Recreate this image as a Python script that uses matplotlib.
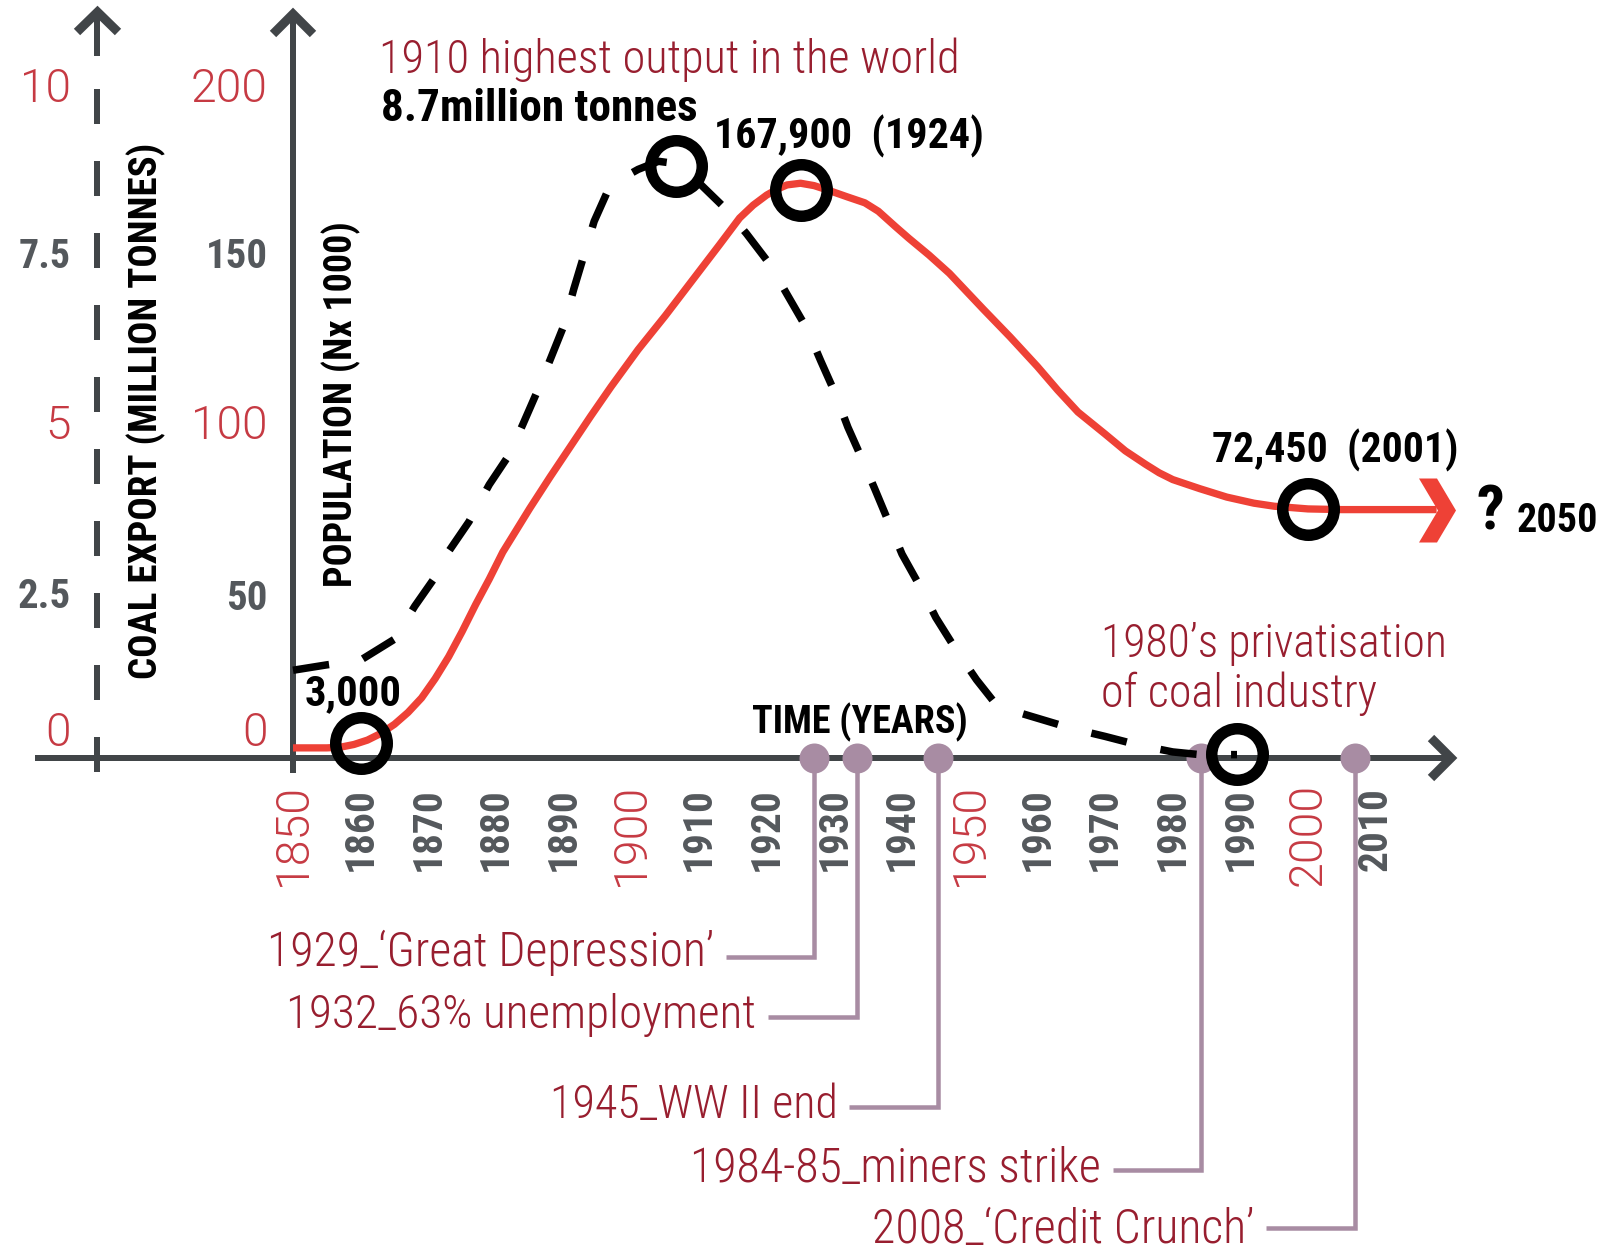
import os
import numpy as np
import matplotlib
matplotlib.use("Agg")
import matplotlib.pyplot as plt
import matplotlib.transforms as mtransforms
from matplotlib.path import Path
from matplotlib.font_manager import FontProperties, fontManager

# ---------------- data ----------------
pop_years = [1850, 1855, 1857, 1859, 1861, 1863, 1865, 1867, 1869, 1871, 1873, 1875,
             1877, 1879, 1881, 1883, 1885, 1888, 1891, 1894, 1897, 1901, 1905, 1909,
             1913, 1916, 1918, 1920, 1921.5, 1923, 1925, 1927, 1929, 1932, 1934.5,
             1936.5, 1939, 1941, 1944, 1947, 1952, 1956, 1960, 1963, 1966, 1970, 1973,
             1976, 1978, 1980, 1984, 1988, 1992, 1995, 2000, 2005, 2019]
pop_values = [3.0, 3.0, 3.2, 4.0, 5.3, 7.3, 10.0, 13.5, 17.8, 23.5, 30, 37.5,
              45.5, 53, 61, 67.5, 74, 83.3, 92.3, 101.3, 110, 121, 131, 141.5,
              152, 160, 163.8, 166.8, 168.5, 169.8, 170.3, 169.6, 168.3, 166.2, 164.5,
              162, 157.5, 154, 149, 143.6, 133, 124.7, 116, 109, 102.5, 96, 91,
              87, 84.5, 82.5, 79.8, 77.3, 75.5, 74.6, 73.8, 73.6, 73.6]

coal_years = [1850, 1855, 1860, 1865, 1868, 1871, 1873, 1876, 1879, 1882, 1884, 1886,
              1888, 1890, 1891.5, 1893, 1894.5, 1896.5, 1898.5, 1901, 1904, 1907, 1910,
              1914, 1917, 1920.5, 1923, 1926, 1928, 1930, 1932, 1934, 1936, 1938, 1940,
              1943, 1945, 1948, 1951, 1954, 1957, 1960, 1965, 1970, 1975, 1980, 1984, 1989.5]
coal_values = [1.30, 1.38, 1.45, 1.76, 2.25, 2.68, 3.06, 3.50, 4.05, 4.50, 4.95, 5.41,
               5.90, 6.40, 6.95, 7.45, 7.95, 8.40, 8.58, 8.72, 8.84, 8.80, 8.52,
               8.13, 7.77, 7.31, 6.87, 6.35, 5.88, 5.43, 4.90, 4.45, 3.98, 3.50, 3.02,
               2.48, 2.08, 1.60, 1.16, 0.78, 0.68, 0.59, 0.44, 0.32, 0.19, 0.09, 0.05, 0.05]

pop_marker_years = [1860, 1925, 2000]
pop_marker_values = [4.4, 168.3, 73.8]
pop_marker_labels = ["3,000", "167,900  (1924)", "72,450  (2001)"]
coal_marker_years = [1906.6, 1989.5]
coal_marker_values = [8.77, 0.06]

event_years = [1927.0, 1933.3, 1945.3, 1984.2, 2006.9]
event_labels = ["1929_\u2018Great Depression\u2019", "1932_63% unemployment",
                "1945_WW II end", "1984-85_miners strike", "2008_\u2018Credit Crunch\u2019"]

year_ticks = [1850, 1860, 1870, 1880, 1890, 1900, 1910, 1920, 1930, 1940,
              1950, 1960, 1970, 1980, 1990, 2000, 2010]
major_years = [1850, 1900, 1950, 2000]
pop_ticks = [0, 50, 100, 150, 200]
pop_tick_labels = ["0", "50", "100", "150", "200"]
coal_ticks = [0, 2.5, 5, 7.5, 10]
coal_tick_labels = ["0", "2.5", "5", "7.5", "10"]

# ---------------- layout / style ----------------
W, H, DPI = 1609, 1256, 100
PT = 72.0 / DPI
ORIGIN_PX, PX_PER_YEAR = 293.0, 6.767
BASE_PY, PX_PER_POP = 758.0, 3.375
COAL_TO_POP = 20.0

RED = "#EE4136"
TICK_RED = "#C63A43"
DARK_RED = "#981E2F"
GREY = "#54585C"
AXIS = "#414548"
MAUVE = "#A88CA3"

plt.rcParams["lines.scale_dashes"] = False


def find_font(names):
    files = {os.path.basename(f.fname).lower(): f.fname for f in fontManager.ttflist}
    for n in names:
        if n.lower() in files:
            return files[n.lower()]
    return None


bold_file = find_font(["RobotoCondensed-Bold.ttf", "LiberationSansNarrow-Bold.ttf",
                       "DejaVuSansCondensed-Bold.ttf", "NotoSans-CondensedBold.ttf",
                       "OpenSans-CondensedBold.ttf", "NotoSans-SemiCondensedBold.ttf",
                       "Roboto-Bold.ttf", "DejaVuSans-Bold.ttf"])
light_txt_file = find_font(["RobotoCondensed-Light.ttf", "LiberationSansNarrow-Regular.ttf",
                            "NotoSans-CondensedLight.ttf", "Roboto-Light.ttf",
                            "Lato-Light.ttf", "OpenSans-Light.ttf", "NotoSans-Light.ttf",
                            "DejaVuSansCondensed.ttf", "DejaVuSans.ttf"])
light_num_file = find_font(["Roboto-Light.ttf", "Lato-Light.ttf", "OpenSans-Light.ttf",
                            "NotoSans-Light.ttf", "RobotoCondensed-Light.ttf",
                            "DejaVuSans-ExtraLight.ttf", "DejaVuSans.ttf"])


def fp(kind):
    f = {"bold": bold_file, "ltxt": light_txt_file, "lnum": light_num_file}[kind]
    if f:
        return FontProperties(fname=f)
    return FontProperties(family="DejaVu Sans",
                          weight="bold" if kind == "bold" else "light")


fig = plt.figure(figsize=(W / DPI, H / DPI), dpi=DPI)
fig.patch.set_facecolor("white")
ax = fig.add_axes([0, 0, 1, 1])
X0 = 1850 - ORIGIN_PX / PX_PER_YEAR
X1 = 1850 + (W - ORIGIN_PX) / PX_PER_YEAR
Y0 = -(H - BASE_PY) / PX_PER_POP
Y1 = BASE_PY / PX_PER_POP
ax.set_xlim(X0, X1)
ax.set_ylim(Y0, Y1)
ax.axis("off")
ax2 = ax.twinx()
ax2.set_ylim(Y0 / COAL_TO_POP, Y1 / COAL_TO_POP)
ax2.axis("off")

# pixel transform (origin top-left)
T = mtransforms.Affine2D().scale(1.0 / W, -1.0 / H).translate(0, 1) + fig.transFigure
XD_YP = mtransforms.blended_transform_factory(ax.transData, T)
XP_YD = mtransforms.blended_transform_factory(T, ax.transData)
XP_YD2 = mtransforms.blended_transform_factory(T, ax2.transData)

# ---------------- axes chrome ----------------
ax.plot([35, 1449], [758, 758], transform=T, color=AXIS, lw=6 * PT,
        solid_capstyle="butt", zorder=2)
ax.plot([1431, 1451, 1431], [738, 758, 778], transform=T, color=AXIS, lw=9 * PT,
        solid_joinstyle="miter", solid_capstyle="butt", zorder=2)
ax.plot([293, 293], [773, 16], transform=T, color=AXIS, lw=6 * PT,
        solid_capstyle="butt", zorder=2)
ax.plot([273, 293, 313], [34, 14, 34], transform=T, color=AXIS, lw=9 * PT,
        solid_joinstyle="miter", solid_capstyle="butt", zorder=2)
ax.plot([97.5, 97.5], [772, 20], transform=T, color=AXIS, lw=6 * PT,
        ls=(0, (35 * PT, 37 * PT)), dash_capstyle="butt", zorder=2)
ax.plot([97.5, 97.5], [56, 16], transform=T, color=AXIS, lw=6 * PT,
        solid_capstyle="butt", zorder=2)
ax.plot([77, 97.5, 118], [32, 12, 32], transform=T, color=AXIS, lw=9 * PT,
        solid_joinstyle="miter", solid_capstyle="butt", zorder=2)

# ---------------- data series ----------------
ax.plot(pop_years, pop_values, color=RED, lw=7.3 * PT, solid_capstyle="butt",
        solid_joinstyle="round", zorder=3)
chevron = Path([(-18.5, 32), (-0.5, 32), (18.5, 0), (-0.5, -32), (-18.5, -32), (0.5, 0),
                (-18.5, 32)],
               [Path.MOVETO, Path.LINETO, Path.LINETO, Path.LINETO, Path.LINETO,
                Path.LINETO, Path.CLOSEPOLY])
ax.plot([pop_years[-1]], [pop_values[-1]], marker=chevron, ms=64 * PT, mfc=RED,
        mec=RED, mew=0, ls="none", zorder=3)

ax2.plot(coal_years, coal_values, color="black", lw=7.5 * PT,
         ls=(0, (36.5 * PT, 34.5 * PT)), dash_capstyle="butt",
         dash_joinstyle="round", zorder=3)

ax.plot(pop_marker_years, pop_marker_values, ls="none", marker="o", ms=51.5 * PT,
        mfc="none", mec="black", mew=11.5 * PT, zorder=5)
ax2.plot(coal_marker_years, coal_marker_values, ls="none", marker="o", ms=51.5 * PT,
         mfc="none", mec="black", mew=11.5 * PT, zorder=5)

# ---------------- events ----------------
event_line_py = [957, 1017, 1107, 1170, 1228]
event_text_baseline = [966, 1028, 1118, 1182, 1243]
SEG_YEARS = 88.5 / PX_PER_YEAR
for yr, py in zip(event_years, event_line_py):
    ax.plot([yr, yr, yr - SEG_YEARS], [757, py, py], transform=XD_YP, color=MAUVE,
            lw=4.5 * PT, solid_joinstyle="miter", solid_capstyle="butt", zorder=3)
ax.plot(event_years, [0] * len(event_years), ls="none", marker="o", ms=30 * PT,
        mfc=MAUVE, mec=MAUVE, mew=0, zorder=4)

# ---------------- text ----------------
to_fit = []


def put(s, x, y, transform, kind, cap_px, color, target=None, rotated=False,
        clamp=(0.7, 1.3), **kw):
    size = cap_px * 1.014
    t = ax.text(x, y, s, transform=transform, fontproperties=fp(kind), fontsize=size,
                color=color, rotation=90 if rotated else 0, **kw)
    if target:
        to_fit.append((t, target, rotated, clamp))
    return t


# coal axis tick labels
coal_label_offset = [-30, 3, 0, 0, 0]
coal_label_width = [22, 53, 23, 52, 48]
for v, lab, off, tw in zip(coal_ticks, coal_tick_labels, coal_label_offset,
                           coal_label_width):
    red = lab in ("0", "5", "10")
    cap = 37 if red else 32
    tr = XP_YD2 + mtransforms.ScaledTranslation(0, -(off + cap / 2.0) / DPI,
                                                 fig.dpi_scale_trans)
    put(lab, 71, v, tr, "lnum" if red else "bold", cap, TICK_RED if red else GREY,
        target=tw, clamp=(0.88, 1.1), ha="right", va="baseline")

# population axis tick labels
pop_label_offset = [-30, 4, 0, 0, 0]
pop_label_width = [22, 40, 75, 60, 77]
for v, lab, off, tw in zip(pop_ticks, pop_tick_labels, pop_label_offset,
                           pop_label_width):
    red = lab in ("0", "100", "200")
    cap = 37 if red else 33
    tr = XP_YD + mtransforms.ScaledTranslation(0, -(off + cap / 2.0) / DPI,
                                                fig.dpi_scale_trans)
    put(lab, 268, v, tr, "lnum" if red else "bold", cap, TICK_RED if red else GREY,
        target=tw, clamp=(0.88, 1.1), ha="right", va="baseline")

# year tick labels
for yr in year_ticks:
    if yr in major_years:
        put(str(yr), yr, 783, XD_YP, "lnum", 28, TICK_RED, target=103, rotated=True,
            ha="center", va="top")
    else:
        put(str(yr), yr, 787, XD_YP, "bold", 25, GREY, target=84, rotated=True,
            ha="center", va="top")

# axis titles
put("COAL EXPORT (MILLION TONNES)", 146, 411, T, "bold", 28, "black", target=535,
    rotated=True, ha="center", va="center")
put("POPULATION (Nx 1000)", 341, 404, T, "bold", 27, "black", target=366,
    rotated=True, ha="center", va="center")
put("TIME (YEARS)", 752, 733, T, "bold", 27, "black", target=216, ha="left",
    va="baseline")

# annotations
put("1910 highest output in the world", 379, 73, T, "ltxt", 28, DARK_RED, target=580,
    ha="left", va="baseline")
put("8.7million tonnes", 381, 121, T, "bold", 30, "black", target=317, ha="left",
    va="baseline")
put(pop_marker_labels[0], 305, 705, T, "bold", 30, "black", target=97, ha="left",
    va="baseline")
put(pop_marker_labels[1], 714, 148, T, "bold", 30, "black", target=270, ha="left",
    va="baseline")
put(pop_marker_labels[2], 1212, 462, T, "bold", 30, "black", target=246, ha="left",
    va="baseline")
put("?", 1477, 530, T, "bold", 44, "black", ha="left", va="baseline")
put("2050", 1517, 532, T, "bold", 32, "black", target=81, ha="left", va="baseline")
put("1980\u2019s privatisation", 1101, 657, T, "ltxt", 28, DARK_RED, target=346,
    ha="left", va="baseline")
put("of coal industry", 1101, 707, T, "ltxt", 28, DARK_RED, target=276, ha="left",
    va="baseline")

event_targets = [448, 470, 288, 411, 382]
TEXT_GAP_YEARS = (88.5 + 12) / PX_PER_YEAR
for yr, by, lab, tw in zip(event_years, event_text_baseline, event_labels,
                           event_targets):
    put(lab, yr - TEXT_GAP_YEARS, by, XD_YP, "ltxt", 29, DARK_RED, target=tw,
        ha="right", va="baseline")

# fit text widths to the reference
fig.canvas.draw()
renderer = fig.canvas.get_renderer()
for t, target, rotated, (lo, hi) in to_fit:
    bb = t.get_window_extent(renderer)
    measured = bb.height if rotated else bb.width
    if measured > 0:
        f = max(lo, min(hi, target / measured))
        t.set_fontsize(t.get_fontsize() * f)

fig.savefig("out.png", dpi=DPI, facecolor="white")
